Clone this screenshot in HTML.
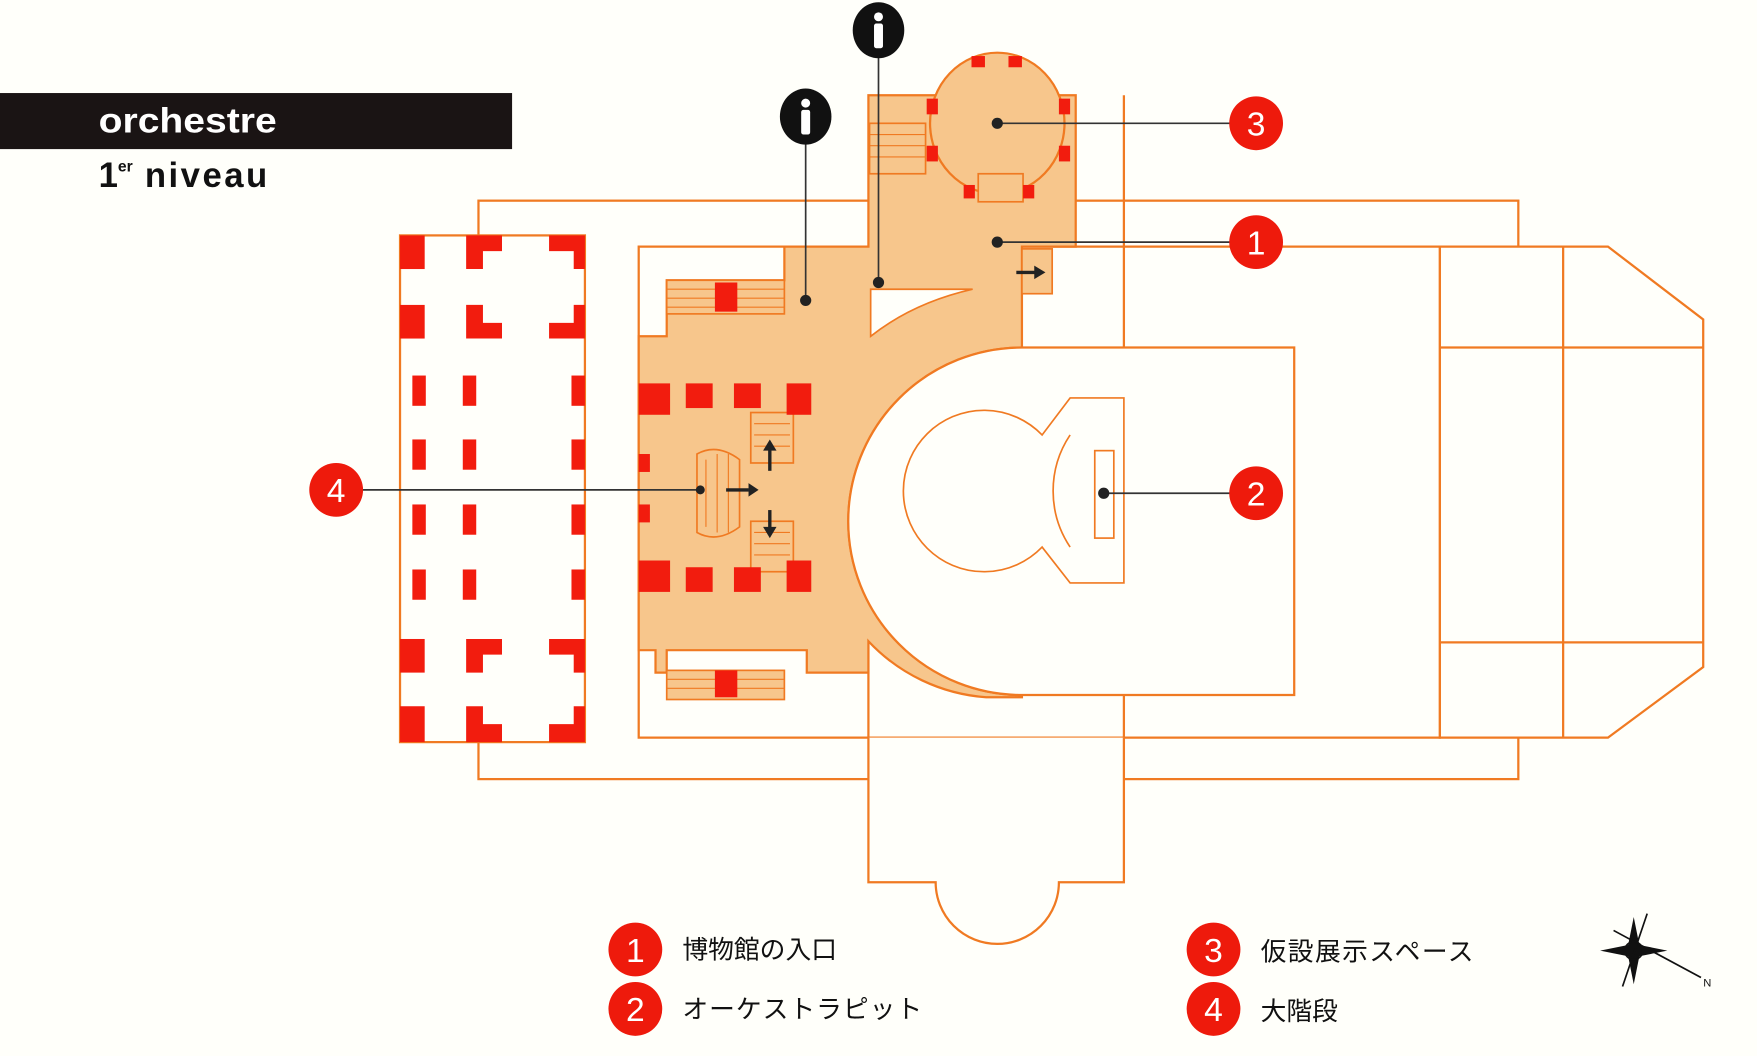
<!DOCTYPE html>
<html><head><meta charset="utf-8"><style>
html,body{margin:0;padding:0;background:#fffffa;}
svg{display:block}
</style></head><body>
<svg width="1757" height="1056" viewBox="0 0 1568 942" preserveAspectRatio="none" xmlns="http://www.w3.org/2000/svg" font-family="Liberation Sans, sans-serif">
<rect width="1568" height="942" fill="#fffffa"/>
<g stroke="#f07a22" stroke-width="2" fill="none">
<rect x="427" y="179" width="928" height="516"/>
<rect x="570" y="220" width="715" height="438" fill="#fffffa"/>
<path d="M1285,220 H1435 L1520,285 V595 L1435,658 H1285 Z" fill="#fffffa"/>
<line x1="1395" y1="220" x2="1395" y2="658"/>
<line x1="1285" y1="310" x2="1520" y2="310"/>
<line x1="1285" y1="573" x2="1520" y2="573"/>
<path d="M775,658 V787 H835 A55,55 0 0 0 945,787 H1003 V658" fill="#fffffa"/>
<line x1="1003" y1="85" x2="1003" y2="658"/>
<line x1="775" y1="300" x2="775" y2="658"/>
<rect x="357" y="210" width="165" height="452" fill="#fffffa"/>
</g>
<g fill="#f7c68c" stroke="#f07a22" stroke-width="2">
<path d="M775,85 H960 V180 H960 V220 H912 V310 A155,155 0 0 0 912,620 V622 H880 A160,160 0 0 1 775,572 V600 H720 V580 H595 V600 H585 V580 H570 V300 H595 V250 H700 V220 H775 Z"/>
<ellipse cx="890" cy="110" rx="60" ry="63"/>
</g>
<path d="M777,258 L868,258 Q815,270 777,300 Z" fill="#fffffa" stroke="#f07a22" stroke-width="1.5"/>
<path d="M1155,310 H912 A155,155 0 0 0 912,620 H1155 Z" fill="#fffffa" stroke="#f07a22" stroke-width="2"/>
<path d="M930,388 A72,72 0 1 0 930,488 L955,520 H1003 V355 H955 Z" fill="#fffffa" stroke="#f07a22" stroke-width="1.5"/>
<path d="M955,388 A90,90 0 0 0 955,488" fill="none" stroke="#f07a22" stroke-width="1.5"/>
<rect x="977" y="402" width="17" height="78" fill="#fffffa" stroke="#f07a22" stroke-width="1.5"/>
<g fill="#f7c68c" stroke="#f07a22" stroke-width="1.5">
<rect x="595" y="250" width="105" height="30"/>
<rect x="595" y="598" width="105" height="26"/>
<rect x="776" y="110" width="50" height="45"/>
<rect x="873" y="155" width="40" height="25"/>
<rect x="912" y="222" width="27" height="40"/>
<rect x="670" y="368" width="38" height="45"/>
<rect x="670" y="465" width="38" height="45"/>
<path d="M622,405 Q640,395 660,410 V470 Q640,485 622,475 Z"/>
</g>
<g stroke="#f07a22" stroke-width="1">
<path d="M595,258H700M595,266H700M595,274H700M595,606H700M595,614H700M776,120H826M776,130H826M776,140H826M673,378H705M673,388H705M673,398H705M673,475H705M673,485H705M673,495H705M630,410V470M640,405V475M650,405V475"/>
</g>
<g fill="#f21c0e">
<rect x="357" y="210" width="22" height="30"/>
<path d="M416,210h32v14h-17v16h-15z"/><path d="M490,210h32v30h-10v-16h-22z"/>
<rect x="357" y="272" width="22" height="30"/>
<path d="M416,272h15v16h17v14h-32z"/><path d="M512,272h10v30h-32v-14h22z"/>
<rect x="368" y="335" width="12" height="27"/><rect x="413" y="335" width="12" height="27"/><rect x="510" y="335" width="12" height="27"/>
<rect x="368" y="392" width="12" height="27"/><rect x="413" y="392" width="12" height="27"/><rect x="510" y="392" width="12" height="27"/>
<rect x="368" y="450" width="12" height="27"/><rect x="413" y="450" width="12" height="27"/><rect x="510" y="450" width="12" height="27"/>
<rect x="368" y="508" width="12" height="27"/><rect x="413" y="508" width="12" height="27"/><rect x="510" y="508" width="12" height="27"/>
<rect x="357" y="570" width="22" height="30"/>
<path d="M416,570h32v14h-17v16h-15z"/><path d="M490,570h32v30h-10v-16h-22z"/>
<rect x="357" y="630" width="22" height="32"/>
<path d="M416,630h15v16h17v16h-32z"/><path d="M512,630h10v32h-32v-16h22z"/>
<rect x="570" y="342" width="28" height="28"/><rect x="612" y="342" width="24" height="22"/><rect x="655" y="342" width="24" height="22"/><rect x="702" y="342" width="22" height="28"/>
<rect x="570" y="500" width="28" height="28"/><rect x="612" y="506" width="24" height="22"/><rect x="655" y="506" width="24" height="22"/><rect x="702" y="500" width="22" height="28"/>
<rect x="570" y="405" width="10" height="16"/><rect x="570" y="450" width="10" height="16"/>
<rect x="638" y="252" width="20" height="26"/><rect x="638" y="598" width="20" height="24"/>
<rect x="867" y="50" width="12" height="10"/><rect x="900" y="50" width="12" height="10"/>
<rect x="827" y="88" width="10" height="14"/><rect x="945" y="88" width="10" height="14"/>
<rect x="827" y="130" width="10" height="14"/><rect x="945" y="130" width="10" height="14"/>
<rect x="860" y="165" width="10" height="12"/><rect x="913" y="165" width="10" height="12"/>
</g>
<g stroke="#222" stroke-width="3" fill="#222">
<line x1="648" y1="437" x2="668" y2="437"/><path d="M668,431 L677,437 L668,443Z" stroke="none"/>
<line x1="687" y1="420" x2="687" y2="400"/><path d="M681,402 L687,392 L693,402Z" stroke="none"/>
<line x1="687" y1="455" x2="687" y2="472"/><path d="M681,470 L687,480 L693,470Z" stroke="none"/>
<line x1="907" y1="243" x2="925" y2="243"/><path d="M923,237 L933,243 L923,249Z" stroke="none"/>
</g>
<g stroke="#333" stroke-width="1.5">
<line x1="890" y1="110" x2="1100" y2="110"/>
<line x1="890" y1="216" x2="1100" y2="216"/>
<line x1="985" y1="440" x2="1100" y2="440"/>
<line x1="322" y1="437" x2="625" y2="437"/>
<line x1="784" y1="45" x2="784" y2="252"/>
<line x1="719" y1="122" x2="719" y2="268"/>
</g>
<g fill="#222">
<circle cx="890" cy="110" r="5"/><circle cx="890" cy="216" r="5"/><circle cx="985" cy="440" r="5"/><circle cx="625" cy="437" r="4"/>
<circle cx="784" cy="252" r="5"/><circle cx="719" cy="268" r="5"/>
</g>
<g>
<ellipse cx="784" cy="27" rx="23" ry="25" fill="#111"/>
<circle cx="784" cy="15" r="4" fill="#fff"/><rect x="780" y="21" width="8" height="22" rx="2" fill="#fff"/>
<ellipse cx="719" cy="104" rx="23" ry="25" fill="#111"/>
<circle cx="719" cy="92" r="4" fill="#fff"/><rect x="715" y="98" width="8" height="22" rx="2" fill="#fff"/>
</g>
<g fill="#ee1a0c">
<circle cx="1121" cy="110" r="24"/><circle cx="1121" cy="216" r="24"/><circle cx="1121" cy="440" r="24"/><circle cx="300" cy="437" r="24"/>
<circle cx="567" cy="847" r="24"/><circle cx="567" cy="900" r="24"/><circle cx="1083" cy="847" r="24"/><circle cx="1083" cy="900" r="24"/>
</g>
<g fill="#fff" font-size="30" text-anchor="middle">
<text x="1121" y="121">3</text><text x="1121" y="227">1</text><text x="1121" y="451">2</text><text x="300" y="448">4</text>
<text x="567" y="858">1</text><text x="567" y="911">2</text><text x="1083" y="858">3</text><text x="1083" y="911">4</text>
</g>
<rect x="0" y="83" width="457" height="50" fill="#1a1414"/>
<text x="88" y="118" fill="#fff" font-size="31" font-weight="bold" textLength="159" lengthAdjust="spacingAndGlyphs">orchestre</text>
<text x="88" y="167" fill="#111" font-size="31" font-weight="bold">1<tspan font-size="14" dy="-14">er</tspan><tspan dy="14" textLength="120"> niveau</tspan></text>
<g font-family="Liberation Sans, Noto Sans CJK JP, sans-serif" font-size="23" fill="#111">
<text x="609" y="855">博物館の入口</text>
<text x="609" y="908" textLength="214">オーケストラピット</text>
<text x="1125" y="857" textLength="190">仮設展示スペース</text>
<text x="1125" y="910">大階段</text>
</g>
<g fill="#111" stroke="#111">
<path d="M1458,818 L1463,843 L1488,848 L1463,853 L1458,878 L1453,853 L1428,848 L1453,843Z" stroke="none"/>
<line x1="1440" y1="830" x2="1518" y2="872" stroke-width="1.5"/>
<line x1="1470" y1="815" x2="1448" y2="880" stroke-width="1.5"/>
<circle cx="1458" cy="848" r="8" fill="none" stroke-width="1.5"/>
<text x="1520" y="880" font-size="10" stroke="none">N</text>
</g>
</svg>
</body></html>
